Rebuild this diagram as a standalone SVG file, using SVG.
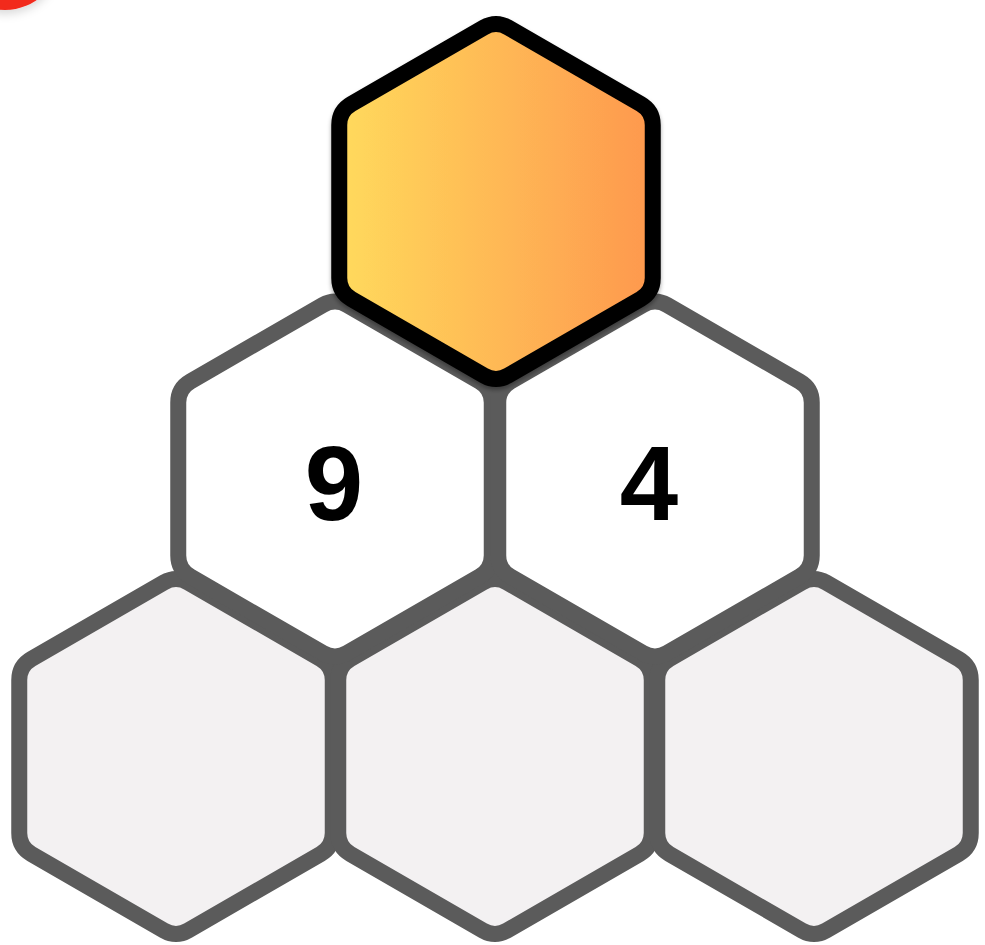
<svg xmlns="http://www.w3.org/2000/svg" width="985" height="945" viewBox="0 0 985 945">
  <defs>
    <path id="hex" d="M -12.12,-174 Q 0,-181 12.12,-174 L 144.63,-97.5 Q 156.75,-90.5 156.75,-76.5 L 156.75,76.5 Q 156.75,90.5 144.63,97.5 L 12.12,174 Q 0,181 -12.12,174 L -144.63,97.5 Q -156.75,90.5 -156.75,76.5 L -156.75,-76.5 Q -156.75,-90.5 -144.63,-97.5 Z"/>
    <linearGradient id="gold" x1="0" y1="0" x2="1" y2="0">
      <stop offset="0" stop-color="#FFDA5C"/>
      <stop offset="1" stop-color="#FE984E"/>
    </linearGradient>
    <filter id="shadow" x="-20%" y="-20%" width="140%" height="140%">
      <feDropShadow dx="0" dy="3" stdDeviation="2" flood-color="#000" flood-opacity="0.35"/>
    </filter>
    <filter id="soft" x="-50%" y="-50%" width="200%" height="200%">
      <feDropShadow dx="0" dy="4" stdDeviation="5" flood-color="#000" flood-opacity="0.15"/>
    </filter>
  </defs>
  <style>
    .base { fill: #F3F1F2; stroke: #5B5B5B; stroke-width: 16; }
    .mid { fill: #FFFFFF; stroke: #5B5B5B; stroke-width: 16; }
    .top { fill: url(#gold); stroke: #000000; stroke-width: 16; }
    .num { font-family: "Liberation Sans", Arial, sans-serif; font-weight: bold; font-size: 105px; fill: #000; text-anchor: middle; }
  </style>
  <rect width="985" height="945" fill="#FFFFFF"/>
  <circle cx="5" cy="-45" r="55" fill="#F2291E" filter="url(#soft)"/>
  <g id="bottom-left"><use href="#hex" class="base" transform="translate(176,756.5)"/></g>
  <g id="bottom-middle"><use href="#hex" class="base" transform="translate(495,756.5)"/></g>
  <g id="bottom-right"><use href="#hex" class="base" transform="translate(814,756.5)"/></g>
  <g id="middle-left">
    <use href="#hex" class="mid" transform="translate(335,479)"/>
    <text class="num" x="334" y="520">9</text>
  </g>
  <g id="middle-right">
    <use href="#hex" class="mid" transform="translate(655,479)"/>
    <text class="num" x="649" y="520">4</text>
  </g>
  <g id="top"><use href="#hex" class="top" transform="translate(496,201.5)" filter="url(#shadow)"/></g>
  <g id="connectors"/>
</svg>
